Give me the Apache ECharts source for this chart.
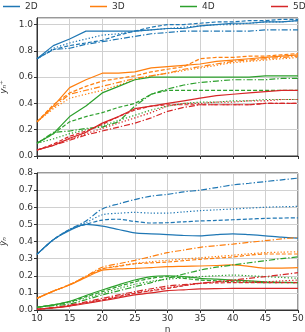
<!DOCTYPE html>
<html lang="en">
<head>
    <meta charset="UTF-8">
    <title>yn</title>
    <style>
        html, body {margin: 0; padding: 0; background: #fff;}
        #main {width: 305px; height: 332px;}
    </style>
</head>
<body>
<div id="main"></div>
<script src="https://cdn.jsdelivr.net/npm/echarts@6/dist/echarts.min.js"></script>
<script>
    // n values
    let nVals = [10, 12.5, 15, 17.5, 20, 22.5, 25, 27.5, 30, 32.5, 35, 37.5, 40, 42.5, 45, 47.5, 50];

    // top: y_n^+  (solid, dashed, dotted, dash-dot)
    let top2D = [
        [0.74, 0.84, 0.89, 0.95, 0.95, 0.95, 0.95, 0.96, 0.97, 0.97, 0.99, 1.00, 1.01, 1.01, 1.02, 1.02, 1.03],
        [0.74, 0.81, 0.84, 0.86, 0.88, 0.92, 0.95, 0.98, 1.00, 1.00, 1.01, 1.02, 1.02, 1.03, 1.03, 1.04, 1.04],
        [0.74, 0.82, 0.86, 0.89, 0.92, 0.93, 0.95, 0.96, 0.97, 0.98, 0.99, 1.00, 1.00, 1.01, 1.02, 1.02, 1.03],
        [0.74, 0.81, 0.82, 0.85, 0.87, 0.89, 0.91, 0.93, 0.94, 0.95, 0.95, 0.95, 0.95, 0.95, 0.96, 0.96, 0.96]
    ];
    let top3D = [
        [0.26, 0.38, 0.52, 0.58, 0.63, 0.63, 0.64, 0.67, 0.68, 0.69, 0.70, 0.72, 0.73, 0.74, 0.75, 0.76, 0.77],
        [0.26, 0.39, 0.48, 0.53, 0.57, 0.59, 0.61, 0.64, 0.66, 0.68, 0.74, 0.75, 0.75, 0.76, 0.76, 0.77, 0.78],
        [0.26, 0.36, 0.44, 0.47, 0.50, 0.54, 0.58, 0.61, 0.63, 0.65, 0.67, 0.69, 0.71, 0.72, 0.73, 0.74, 0.75],
        [0.26, 0.37, 0.47, 0.50, 0.53, 0.56, 0.59, 0.61, 0.63, 0.66, 0.68, 0.70, 0.72, 0.73, 0.74, 0.75, 0.76]
    ];
    let top4D = [
        [0.097, 0.17, 0.30, 0.38, 0.48, 0.53, 0.58, 0.60, 0.60, 0.60, 0.60, 0.60, 0.60, 0.60, 0.61, 0.61, 0.61],
        [0.097, 0.17, 0.26, 0.30, 0.33, 0.37, 0.40, 0.47, 0.50, 0.50, 0.50, 0.50, 0.50, 0.50, 0.50, 0.50, 0.50],
        [0.097, 0.13, 0.17, 0.20, 0.23, 0.27, 0.31, 0.35, 0.38, 0.40, 0.41, 0.41, 0.42, 0.42, 0.43, 0.43, 0.43],
        [0.097, 0.18, 0.19, 0.21, 0.22, 0.26, 0.38, 0.47, 0.51, 0.54, 0.56, 0.57, 0.58, 0.58, 0.58, 0.59, 0.59]
    ];
    let top5D = [
        [0.046, 0.08, 0.135, 0.18, 0.25, 0.30, 0.36, 0.38, 0.40, 0.42, 0.44, 0.46, 0.47, 0.48, 0.49, 0.50, 0.50],
        [0.046, 0.09, 0.15, 0.19, 0.24, 0.30, 0.35, 0.38, 0.39, 0.39, 0.39, 0.39, 0.39, 0.39, 0.40, 0.40, 0.40],
        [0.046, 0.08, 0.13, 0.17, 0.21, 0.25, 0.29, 0.33, 0.38, 0.40, 0.40, 0.41, 0.41, 0.42, 0.42, 0.43, 0.43],
        [0.046, 0.08, 0.12, 0.16, 0.19, 0.22, 0.25, 0.29, 0.34, 0.37, 0.39, 0.39, 0.39, 0.39, 0.40, 0.40, 0.40]
    ];

    // bottom: y~_n
    let bot2D = [
        [0.325, 0.41, 0.465, 0.50, 0.49, 0.47, 0.45, 0.445, 0.44, 0.435, 0.433, 0.44, 0.445, 0.44, 0.433, 0.425, 0.42],
        [0.325, 0.41, 0.47, 0.50, 0.525, 0.53, 0.517, 0.508, 0.51, 0.515, 0.52, 0.523, 0.527, 0.531, 0.535, 0.537, 0.538],
        [0.325, 0.41, 0.47, 0.51, 0.556, 0.565, 0.57, 0.566, 0.566, 0.573, 0.58, 0.585, 0.59, 0.595, 0.60, 0.603, 0.605],
        [0.325, 0.41, 0.47, 0.52, 0.59, 0.62, 0.645, 0.665, 0.675, 0.69, 0.70, 0.715, 0.73, 0.74, 0.75, 0.76, 0.77]
    ];
    let bot3D = [
        [0.068, 0.11, 0.146, 0.19, 0.233, 0.24, 0.243, 0.248, 0.253, 0.255, 0.257, 0.26, 0.263, 0.255, 0.245, 0.245, 0.247],
        [0.068, 0.11, 0.148, 0.195, 0.24, 0.255, 0.27, 0.275, 0.28, 0.288, 0.296, 0.303, 0.31, 0.32, 0.327, 0.327, 0.327],
        [0.068, 0.11, 0.148, 0.195, 0.24, 0.258, 0.272, 0.282, 0.29, 0.298, 0.305, 0.312, 0.32, 0.328, 0.335, 0.338, 0.34],
        [0.068, 0.11, 0.148, 0.198, 0.25, 0.27, 0.29, 0.312, 0.335, 0.35, 0.366, 0.376, 0.385, 0.395, 0.405, 0.415, 0.424]
    ];
    let bot4D = [
        [0.016, 0.03, 0.05, 0.085, 0.117, 0.147, 0.175, 0.195, 0.20, 0.195, 0.185, 0.18, 0.175, 0.17, 0.165, 0.162, 0.16],
        [0.016, 0.03, 0.048, 0.078, 0.107, 0.137, 0.165, 0.185, 0.195, 0.185, 0.175, 0.17, 0.165, 0.162, 0.16, 0.16, 0.16],
        [0.016, 0.028, 0.045, 0.07, 0.097, 0.125, 0.15, 0.168, 0.18, 0.188, 0.195, 0.20, 0.204, 0.20, 0.195, 0.19, 0.185],
        [0.016, 0.025, 0.035, 0.06, 0.088, 0.112, 0.136, 0.16, 0.185, 0.21, 0.233, 0.25, 0.263, 0.276, 0.288, 0.30, 0.31]
    ];
    let bot5D = [
        [0.004, 0.012, 0.023, 0.038, 0.054, 0.071, 0.088, 0.10, 0.113, 0.118, 0.123, 0.125, 0.126, 0.126, 0.126, 0.126, 0.126],
        [0.004, 0.013, 0.025, 0.041, 0.058, 0.078, 0.097, 0.112, 0.126, 0.142, 0.156, 0.158, 0.16, 0.16, 0.16, 0.16, 0.16],
        [0.004, 0.013, 0.026, 0.043, 0.06, 0.08, 0.10, 0.115, 0.13, 0.143, 0.156, 0.163, 0.17, 0.168, 0.165, 0.17, 0.175],
        [0.004, 0.014, 0.028, 0.047, 0.068, 0.088, 0.107, 0.124, 0.14, 0.148, 0.156, 0.166, 0.175, 0.185, 0.195, 0.206, 0.218]
    ];

    let names   = ['2D', '3D', '4D', '5D'];
    let colors  = ['#1f77b4', '#ff7f0e', '#2ca02c', '#d62728'];
    let dashes  = ['solid', [4, 2], [1.3, 2], [6, 2, 1.3, 2]];
    let legendX = [3, 90, 180, 271];
    let font    = 'DejaVu Sans';

    let series = [];
    function addGroup(groups, axis, smooth) {
        groups.forEach(function (g, gi) {
            g.forEach(function (vals, si) {
                series.push({
                    name      : names[gi],
                    type      : 'line',
                    xAxisIndex: axis,
                    yAxisIndex: axis,
                    symbol    : 'none',
                    smooth    : smooth,
                    animation : false,
                    data      : vals.map(function (v, i) { return [nVals[i], v]; }),
                    lineStyle : {color: colors[gi], width: 1.2, type: dashes[si]},
                    itemStyle : {color: colors[gi]}
                });
            });
        });
    }
    addGroup([top2D, top3D, top4D, top5D], 0, false);
    addGroup([bot2D, bot3D, bot4D, bot5D], 1, 0.3);

    function xAx(idx, showLabel) {
        return {
            type        : 'value', gridIndex: idx, min: 10, max: 50, interval: 5,
            axisLine    : {show: true, lineStyle: {color: '#333'}},
            axisTick    : {show: true, length: 3, lineStyle: {color: '#333'}},
            axisLabel   : {show: showLabel, fontFamily: font, fontSize: 9, color: '#333', margin: 4},
            splitLine   : {show: true, lineStyle: {color: '#d0d0d0', width: 1}},
            name        : showLabel ? 'n' : '',
            nameLocation: 'middle', nameGap: 15,
            nameTextStyle: {fontFamily: font, fontSize: 9, color: '#333'}
        };
    }
    function yAx(idx, max, title) {
        return {
            type        : 'value', gridIndex: idx, min: 0, max: max, interval: idx === 0 ? 0.2 : 0.1,
            axisLine    : {show: true, lineStyle: {color: '#333'}},
            axisTick    : {show: true, length: 3, lineStyle: {color: '#333'}},
            axisLabel   : {
                fontFamily: font, fontSize: 9, color: '#333', margin: 4, showMaxLabel: idx === 1,
                formatter : function (v) { return v.toFixed(1); }
            },
            splitLine   : {show: true, lineStyle: {color: '#d0d0d0', width: 1}},
            name        : title,
            nameLocation: 'middle', nameGap: 24, nameRotate: 90,
            nameTextStyle: {fontFamily: font, fontSize: 9, color: '#333', fontStyle: 'italic'}
        };
    }

    let chart = echarts.init(document.getElementById('main'));
    chart.setOption({
        backgroundColor: '#fff',
        animation: false,
        legend : names.map(function (nm, i) {
            return {
                data      : [nm],
                left      : legendX[i],
                top       : 2,
                padding   : 0,
                icon      : 'rect',
                itemWidth : 17,
                itemHeight: 1.5,
                itemGap   : 5,
                textStyle : {fontFamily: font, fontSize: 9, color: '#333'}
            };
        }),
        grid   : [
            {left: 37, right: 7, top: 18, height: 138, show: true, borderColor: '#333', borderWidth: 1, outerBoundsMode: 'none'},
            {left: 37, right: 7, top: 173, height: 137, show: true, borderColor: '#333', borderWidth: 1, outerBoundsMode: 'none'}
        ],
        xAxis  : [xAx(0, false), xAx(1, true)],
        yAxis  : [yAx(0, 1.05, 'yₙ⁺'), yAx(1, 0.8, 'ỹₙ')],
        series : series
    });
</script>
</body>
</html>
